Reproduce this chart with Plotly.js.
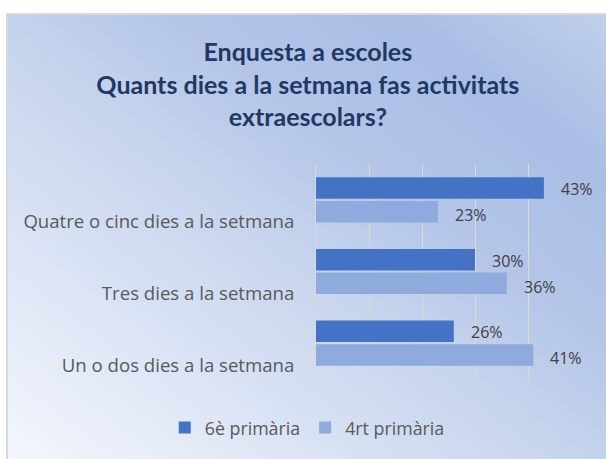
<!DOCTYPE html>
<html>
<head>
<meta charset="utf-8">
<script src="https://cdn.plot.ly/plotly-3.0.1.min.js"></script>
<style>
  html, body { margin: 0; padding: 0; background: #ffffff; }
  #bg {
    position: absolute; left: 6px; top: 13px; width: 600px; height: 446px;
    box-sizing: border-box;
    border-top: 2px solid #d9d9d9; border-left: 2px solid #d9d9d9;
    background: linear-gradient(to top right, #f3f6fc 0%, #dce4f5 25%, #c3d2ec 50%, #b5c6e8 62%, #a9bde5 82%, #c0cfeb 100%);
  }
  #chart { position: absolute; left: 0; top: 0; width: 606px; height: 459px; }
</style>
</head>
<body>
<div id="bg"></div>
<div id="chart"></div>
<script>
const categories = ['Quatre o cinc dies a la setmana', 'Tres dies a la setmana', 'Un o dos dies a la setmana'];
const values6e = [0.43, 0.30, 0.26];
const values4rt = [0.23, 0.36, 0.41];
const seriesNames = ['6è primària', '4rt primària'];
const titleText = 'Enquesta a escoles<br>Quants dies a la setmana fas activitats<br>extraescolars?';

const colors = ['#4472c4', '#8faadc'];
const pct = v => Math.round(v * 100) + '%';

const traces = [
  { type: 'bar', orientation: 'h', name: seriesNames[0], y: categories, x: values6e,
    marker: { color: colors[0] }, hoverinfo: 'skip' },
  { type: 'bar', orientation: 'h', name: seriesNames[1], y: categories, x: values4rt,
    marker: { color: colors[1] }, hoverinfo: 'skip' }
];

const annotations = [];
const labelFont = { family: '"Open Sans", sans-serif', size: 16, color: '#404040' };
categories.forEach((c, i) => {
  annotations.push({ x: values6e[i], y: c, xref: 'x', yref: 'y', text: pct(values6e[i]),
    showarrow: false, xanchor: 'left', yanchor: 'middle', xshift: 15, yshift: 11, font: labelFont });
  annotations.push({ x: values4rt[i], y: c, xref: 'x', yref: 'y', text: pct(values4rt[i]),
    showarrow: false, xanchor: 'left', yanchor: 'middle', xshift: 15, yshift: -15, font: labelFont });
});

const layout = {
  width: 606, height: 459,
  paper_bgcolor: 'rgba(0,0,0,0)', plot_bgcolor: 'rgba(0,0,0,0)',
  margin: { l: 316, r: 25, t: 164, b: 76, pad: 0 },
  title: {
    text: titleText,
    font: { family: 'Lato, sans-serif', size: 25, color: '#1f3864', weight: 'bold' },
    x: 0.508, xanchor: 'center', y: 1 - 61 / 459, yanchor: 'top', xref: 'container', yref: 'container'
  },
  barmode: 'group', bargap: 0.34, bargroupgap: 0.09,
  xaxis: { range: [0, 0.5], dtick: 0.1, showticklabels: false, showgrid: true,
    gridcolor: '#ddd9d3', gridwidth: 1, zeroline: false, showline: false, fixedrange: true },
  yaxis: { type: 'category', autorange: 'reversed', showgrid: false, showline: true,
    linecolor: '#d9d9d9', linewidth: 1, ticks: '', ticklabelstandoff: 17, ticklabelshift: -22,
    tickfont: { family: '"Open Sans", sans-serif', size: 18.6, color: '#595959' }, fixedrange: true },
  showlegend: true,
  legend: { orientation: 'h', x: -0.033, xanchor: 'center', y: -0.228, yanchor: 'middle',
    font: { family: '"Open Sans", sans-serif', size: 17.8, color: '#595959' }, bgcolor: 'rgba(0,0,0,0)',
    traceorder: 'normal' },
  annotations: annotations
};

Plotly.newPlot('chart', traces, layout, { staticPlot: true, displayModeBar: false });
</script>
</body>
</html>
